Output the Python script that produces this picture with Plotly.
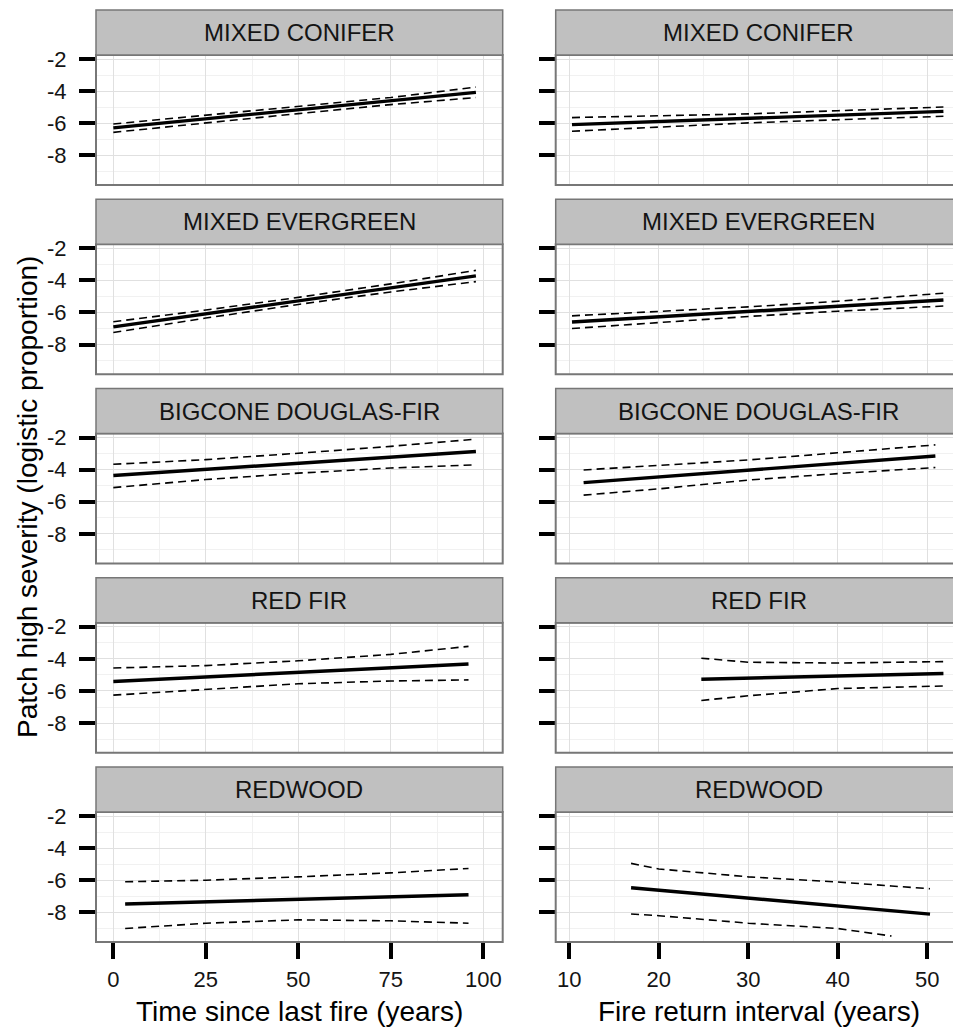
import plotly.graph_objects as go

# ---------------- data ----------------
forest_types = ["MIXED CONIFER", "MIXED EVERGREEN", "BIGCONE DOUGLAS-FIR", "RED FIR", "REDWOOD"]

tsf_ticks = [0, 25, 50, 75, 100]
fri_ticks = [10, 20, 30, 40, 50]
y_ticks = [-2, -4, -6, -8]
y_ticktext = ["-2", "-4", "-6", "-8"]

x_title_left = "Time since last fire (years)"
x_title_right = "Fire return interval (years)"
y_title = "Patch high severity (logistic proportion)"

# Time since last fire panels
mc_tsf_x = [0, 25, 50, 75, 98]
mc_tsf_fit = [-6.29, -5.73, -5.16, -4.60, -4.08]
mc_tsf_hi = [-6.05, -5.50, -4.97, -4.40, -3.75]
mc_tsf_lo = [-6.57, -5.97, -5.40, -4.84, -4.40]

me_tsf_x = [0, 25, 50, 75, 98]
me_tsf_fit = [-6.90, -6.09, -5.28, -4.47, -3.72]
me_tsf_hi = [-6.58, -5.85, -5.06, -4.22, -3.38]
me_tsf_lo = [-7.25, -6.35, -5.50, -4.72, -4.08]

bdf_tsf_x = [0, 25, 50, 75, 98]
bdf_tsf_fit = [-4.37, -3.99, -3.60, -3.22, -2.87]
bdf_tsf_hi = [-3.67, -3.38, -2.98, -2.55, -2.10]
bdf_tsf_lo = [-5.12, -4.62, -4.22, -3.90, -3.70]

rf_tsf_x = [0, 25, 50, 75, 96]
rf_tsf_fit = [-5.41, -5.13, -4.84, -4.56, -4.32]
rf_tsf_hi = [-4.57, -4.42, -4.12, -3.72, -3.22]
rf_tsf_lo = [-6.26, -5.90, -5.55, -5.38, -5.31]

rw_tsf_x = [3.2, 25, 50, 75, 96]
rw_tsf_fit = [-7.48, -7.35, -7.19, -7.04, -6.91]
rw_tsf_hi = [-6.10, -6.00, -5.79, -5.54, -5.27]
rw_tsf_lo = [-9.01, -8.68, -8.47, -8.53, -8.68]

# Fire return interval panels
mc_fri_x = [10.3, 20, 30, 40, 51.8]
mc_fri_fit = [-6.09, -5.90, -5.70, -5.50, -5.26]
mc_fri_hi = [-5.65, -5.55, -5.42, -5.22, -4.99]
mc_fri_lo = [-6.50, -6.25, -5.98, -5.78, -5.57]

me_fri_x = [10.3, 20, 30, 40, 51.8]
me_fri_fit = [-6.59, -6.27, -5.94, -5.61, -5.22]
me_fri_hi = [-6.21, -5.95, -5.65, -5.30, -4.80]
me_fri_lo = [-7.00, -6.62, -6.25, -5.92, -5.60]

bdf_fri_x = [11.6, 20, 30, 40, 50.9]
bdf_fri_fit = [-4.81, -4.46, -4.03, -3.61, -3.15]
bdf_fri_hi = [-4.02, -3.75, -3.40, -2.95, -2.46]
bdf_fri_lo = [-5.59, -5.20, -4.65, -4.25, -3.87]

rf_fri_x = [24.75, 30, 40, 51.8]
rf_fri_fit = [-5.27, -5.20, -5.07, -4.91]
rf_fri_hi = [-3.96, -4.21, -4.26, -4.17]
rf_fri_lo = [-6.59, -6.30, -5.85, -5.69]

rw_fri_x = [16.9, 20, 30, 40, 46, 50.3]
rw_fri_fit = [-6.47, -6.62, -7.11, -7.60, -7.90, -8.11]
rw_fri_hi = [-4.95, -5.30, -5.79, -6.11, -6.36, -6.53]
rw_fri_lo = [-8.11, -8.21, -8.68, -9.01, -9.48, None]

left_series = [
    (mc_tsf_x, mc_tsf_fit, mc_tsf_lo, mc_tsf_hi),
    (me_tsf_x, me_tsf_fit, me_tsf_lo, me_tsf_hi),
    (bdf_tsf_x, bdf_tsf_fit, bdf_tsf_lo, bdf_tsf_hi),
    (rf_tsf_x, rf_tsf_fit, rf_tsf_lo, rf_tsf_hi),
    (rw_tsf_x, rw_tsf_fit, rw_tsf_lo, rw_tsf_hi),
]
right_series = [
    (mc_fri_x, mc_fri_fit, mc_fri_lo, mc_fri_hi),
    (me_fri_x, me_fri_fit, me_fri_lo, me_fri_hi),
    (bdf_fri_x, bdf_fri_fit, bdf_fri_lo, bdf_fri_hi),
    (rf_fri_x, rf_fri_fit, rf_fri_lo, rf_fri_hi),
    (rw_fri_x, rw_fri_fit, rw_fri_lo, rw_fri_hi),
]

# ---------------- layout geometry (pixels) ----------------
W, H = 953, 1030
COL_X = [(96.0, 502.7), (555.7, 962.0)]
X_RANGES = [[-4.68, 105.24], [8.48, 52.87]]
PLOT_TOP0 = 55.0
ROW_STEP = 189.25
PLOT_H = 130.0
STRIP_H = 45.0
Y_RANGE = [-9.85, -1.75]

FONT = "Liberation Sans, Arial, Helvetica, sans-serif"
TEXT_COLOR = "#141414"
GRID_MAJOR = "#e0e0e0"
GRID_MINOR = "#f1f1f1"
BORDER = "#777777"
STRIP_FILL = "#c0c0c0"


def px_x(p):
    return p / W


def px_y(p):
    return 1 - p / H


def mids(vals):
    s = sorted(vals)
    return [(a + b) / 2 for a, b in zip(s[:-1], s[1:])]


fig = go.Figure()
layout = {}
shapes = []
annotations = []

for row in range(5):
    top = PLOT_TOP0 + row * ROW_STEP
    bottom = top + PLOT_H
    for col in range(2):
        n = row * 2 + col + 1
        sfx = "" if n == 1 else str(n)
        x0, x1 = COL_X[col]
        xticks = tsf_ticks if col == 0 else fri_ticks
        xminor = mids(xticks) + [xticks[-1] + (xticks[1] - xticks[0]) / 2]
        bottom_row = row == 4

        layout["xaxis" + sfx] = dict(
            domain=[px_x(x0), min(1.0, px_x(x1))],
            range=X_RANGES[col],
            anchor="y" + sfx,
            automargin=False,
            tickvals=xticks,
            ticktext=[str(v) for v in xticks],
            showticklabels=bottom_row,
            ticks="outside" if bottom_row else "",
            ticklen=16, tickwidth=3.5, tickcolor="black",
            ticklabelstandoff=2,
            tickfont=dict(family=FONT, size=22, color=TEXT_COLOR),
            showgrid=True, gridcolor=GRID_MAJOR, gridwidth=1.3,
            minor=dict(tickvals=xminor, showgrid=True, gridcolor=GRID_MINOR,
                       gridwidth=1, ticks=""),
            zeroline=False, showline=False, fixedrange=True,
        )
        layout["yaxis" + sfx] = dict(
            domain=[px_y(bottom), px_y(top)],
            range=Y_RANGE,
            anchor="x" + sfx,
            automargin=False,
            tickvals=y_ticks,
            ticktext=y_ticktext,
            showticklabels=(col == 0),
            ticks="outside",
            ticklen=16, tickwidth=3.5, tickcolor="black",
            ticklabelstandoff=8,
            tickfont=dict(family=FONT, size=22, color=TEXT_COLOR),
            showgrid=True, gridcolor=GRID_MAJOR, gridwidth=1.3,
            minor=dict(tickvals=[-9, -7, -5, -3], showgrid=True,
                       gridcolor=GRID_MINOR, gridwidth=1, ticks=""),
            zeroline=False, showline=False, fixedrange=True,
        )

        xs, fit, lo, hi = (left_series if col == 0 else right_series)[row]
        for ys, dash, w in ((hi, "8px,5px", 1.6), (lo, "8px,5px", 1.6), (fit, "solid", 3.4)):
            fig.add_trace(go.Scatter(
                x=xs, y=ys, mode="lines", xaxis="x" + sfx, yaxis="y" + sfx,
                line=dict(color="black", width=w, dash=dash),
                showlegend=False, hoverinfo="skip", connectgaps=False,
            ))

        # panel border
        shapes.append(dict(type="rect", xref="paper", yref="paper",
                           x0=px_x(x0), x1=px_x(x1), y0=px_y(bottom), y1=px_y(top),
                           line=dict(color=BORDER, width=2), fillcolor="rgba(0,0,0,0)",
                           layer="above"))
        # strip
        shapes.append(dict(type="rect", xref="paper", yref="paper",
                           x0=px_x(x0), x1=px_x(x1), y0=px_y(top), y1=px_y(top - STRIP_H),
                           line=dict(color=BORDER, width=1.5), fillcolor=STRIP_FILL,
                           layer="above"))
        cx = (x0 + x1) / 2
        annotations.append(dict(text=forest_types[row], xref="paper", yref="paper",
                                x=px_x(cx), y=px_y(top - STRIP_H / 2),
                                xanchor="center", yanchor="middle", showarrow=False,
                                font=dict(family=FONT, size=24, color=TEXT_COLOR)))

# axis titles
annotations.append(dict(text=x_title_left, xref="paper", yref="paper",
                        x=px_x((COL_X[0][0] + COL_X[0][1]) / 2), y=px_y(1011),
                        xanchor="center", yanchor="middle", showarrow=False,
                        font=dict(family=FONT, size=28, color="black")))
annotations.append(dict(text=x_title_right, xref="paper", yref="paper",
                        x=px_x((COL_X[1][0] + COL_X[1][1]) / 2), y=px_y(1011),
                        xanchor="center", yanchor="middle", showarrow=False,
                        font=dict(family=FONT, size=28, color="black")))
annotations.append(dict(text=y_title, xref="paper", yref="paper",
                        x=px_x(27), y=px_y(497), textangle=-90,
                        xanchor="center", yanchor="middle", showarrow=False,
                        font=dict(family=FONT, size=28, color="black")))

fig.update_layout(
    width=W, height=H,
    margin=dict(l=0, r=0, t=0, b=0, autoexpand=False),
    paper_bgcolor="white", plot_bgcolor="white",
    shapes=shapes, annotations=annotations,
    showlegend=False,
    **layout,
)

fig.write_html(
    "out.html",
    config={"displayModeBar": False},
    post_script="document.body.style.margin='0';document.body.style.padding='0';"
                "document.body.style.overflow='hidden';",
)
